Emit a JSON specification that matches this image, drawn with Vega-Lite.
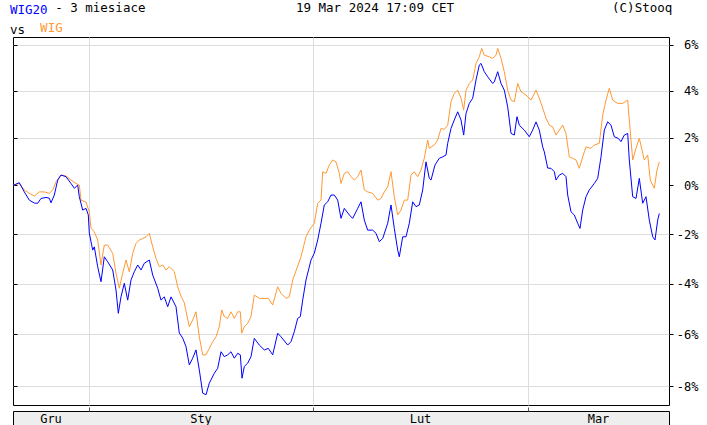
{
  "$schema": "https://vega.github.io/schema/vega-lite/v6.json",
  "background": "white",
  "padding": {"left": 9, "top": 1, "right": 0, "bottom": 0},
  "autosize": {"type": "pad"},
  "config": {
    "view": {"stroke": "black", "strokeWidth": 1},
    "font": "DejaVu Sans Mono",
    "concat": {"spacing": 0}
  },
  "title": {
    "text": "WIG20",
    "subtitle": "\u200b\u00a0\u00a0\u00a0\u00a0\u00a0\u00a0- 3 miesiace\u00a0\u00a0\u00a0\u00a0\u00a0\u00a0\u00a0\u00a0\u00a0\u00a0\u00a0\u00a0\u00a0\u00a0\u00a0\u00a0\u00a0\u00a0\u00a0\u00a019 Mar 2024 17:09 CET\u00a0\u00a0\u00a0\u00a0\u00a0\u00a0\u00a0\u00a0\u00a0\u00a0\u00a0\u00a0\u00a0\u00a0\u00a0\u00a0\u00a0\u00a0\u00a0\u00a0\u00a0(C)Stooq",
    "anchor": "start",
    "frame": "group",
    "dx": -3,
    "color": "#0000ff",
    "subtitleColor": "#000000",
    "font": "DejaVu Sans Mono",
    "subtitleFont": "DejaVu Sans Mono",
    "fontSize": 12.5,
    "subtitleFontSize": 12.5,
    "fontWeight": "normal",
    "subtitlePadding": -15,
    "offset": 2
  },
  "datasets": {
    "wig": [
      {"day":0,"level":100},{"day":0.63,"level":100.08},{"day":1.13,"level":99.81},{"day":1.63,"level":99.67},{"day":2.13,"level":99.56},{"day":2.63,"level":99.73},{"day":3.13,"level":99.73},{"day":3.63,"level":99.67},{"day":3.97,"level":99.81},{"day":4.3,"level":100.15},{"day":4.8,"level":100.43},{"day":5.3,"level":100.39},{"day":5.8,"level":100.22},{"day":6.3,"level":100.08},{"day":6.63,"level":100.01},{"day":6.8,"level":99.39},{"day":7.3,"level":99.31},{"day":7.63,"level":98.9},{"day":7.8,"level":98.24},{"day":8.13,"level":98.09},{"day":8.47,"level":97.76},{"day":8.8,"level":96.75},{"day":9.13,"level":97.55},{"day":9.47,"level":97.55},{"day":9.97,"level":97.22},{"day":10.3,"level":96.42},{"day":10.63,"level":95.82},{"day":10.97,"level":96.42},{"day":11.3,"level":96.95},{"day":11.63,"level":96.48},{"day":11.97,"level":97.22},{"day":12.3,"level":97.62},{"day":12.63,"level":97.76},{"day":12.97,"level":97.82},{"day":13.3,"level":97.89},{"day":13.63,"level":98.03},{"day":13.97,"level":97.48},{"day":14.3,"level":97.02},{"day":14.63,"level":96.68},{"day":14.97,"level":96.75},{"day":15.3,"level":96.55},{"day":15.63,"level":96.68},{"day":16.13,"level":96.48},{"day":16.47,"level":95.88},{"day":16.8,"level":95.51},{"day":17.13,"level":95.24},{"day":17.63,"level":94.3},{"day":17.97,"level":94.57},{"day":18.3,"level":94.89},{"day":18.63,"level":93.91},{"day":18.97,"level":93.21},{"day":19.3,"level":93.21},{"day":19.63,"level":93.46},{"day":19.97,"level":93.72},{"day":20.3,"level":93.91},{"day":20.63,"level":94.3},{"day":20.87,"level":94.96},{"day":21.13,"level":94.7},{"day":21.47,"level":94.63},{"day":21.8,"level":94.89},{"day":22.13,"level":94.63},{"day":22.47,"level":94.89},{"day":22.73,"level":94.89},{"day":22.87,"level":94.05},{"day":23.13,"level":94.3},{"day":23.47,"level":94.44},{"day":23.8,"level":94.7},{"day":24.13,"level":95.55},{"day":24.63,"level":95.42},{"day":25.13,"level":95.42},{"day":25.53,"level":95.42},{"day":25.97,"level":95.16},{"day":26.47,"level":95.88},{"day":26.8,"level":95.62},{"day":27.3,"level":95.42},{"day":27.63,"level":95.48},{"day":27.97,"level":96.15},{"day":28.4,"level":96.63},{"day":28.8,"level":97.08},{"day":29.3,"level":97.89},{"day":29.63,"level":98.16},{"day":30.13,"level":98.44},{"day":30.47,"level":99.26},{"day":30.8,"level":99.39},{"day":30.97,"level":100.57},{"day":31.3,"level":100.5},{"day":31.63,"level":100.85},{"day":31.97,"level":101.06},{"day":32.3,"level":100.98},{"day":32.63,"level":100.5},{"day":32.8,"level":100.08},{"day":33.13,"level":100.5},{"day":33.47,"level":100.57},{"day":33.8,"level":100.36},{"day":34.13,"level":100.22},{"day":34.47,"level":100.36},{"day":34.8,"level":100.64},{"day":35.13,"level":99.81},{"day":35.47,"level":99.73},{"day":35.97,"level":99.67},{"day":36.47,"level":99.39},{"day":36.8,"level":99.46},{"day":37.13,"level":99.73},{"day":37.47,"level":99.94},{"day":37.8,"level":100.57},{"day":38.13,"level":99.53},{"day":38.47,"level":98.78},{"day":38.8,"level":98.98},{"day":39.13,"level":99.39},{"day":39.47,"level":99.39},{"day":39.8,"level":100.43},{"day":40.13,"level":100.57},{"day":40.47,"level":100.36},{"day":40.8,"level":100.64},{"day":41.13,"level":101.13},{"day":41.47,"level":101.9},{"day":41.63,"level":101.55},{"day":42.13,"level":101.69},{"day":42.47,"level":101.9},{"day":42.8,"level":102.39},{"day":43.13,"level":102.35},{"day":43.47,"level":102.53},{"day":43.8,"level":103.53},{"day":44.13,"level":103.89},{"day":44.47,"level":104.03},{"day":44.8,"level":103.68},{"day":45.07,"level":103.17},{"day":45.3,"level":104.03},{"day":45.63,"level":104.32},{"day":45.97,"level":104.47},{"day":46.3,"level":105.19},{"day":46.63,"level":105.48},{"day":46.87,"level":105.85},{"day":47.13,"level":105.55},{"day":47.63,"level":105.48},{"day":47.97,"level":105.41},{"day":48.3,"level":105.55},{"day":48.47,"level":105.85},{"day":48.8,"level":105.41},{"day":49.13,"level":104.83},{"day":49.47,"level":104.03},{"day":49.8,"level":103.6},{"day":50.13,"level":103.53},{"day":50.47,"level":104.32},{"day":50.8,"level":103.96},{"day":51.3,"level":103.82},{"day":51.8,"level":103.6},{"day":52.3,"level":104.03},{"day":52.63,"level":103.68},{"day":52.97,"level":103.26},{"day":53.3,"level":102.83},{"day":53.63,"level":102.53},{"day":53.97,"level":102.46},{"day":54.3,"level":102.11},{"day":54.63,"level":102.32},{"day":54.97,"level":102.53},{"day":55.3,"level":102.18},{"day":55.63,"level":101.19},{"day":55.97,"level":101.13},{"day":56.3,"level":101.06},{"day":56.63,"level":100.71},{"day":56.97,"level":101.19},{"day":57.3,"level":101.61},{"day":57.8,"level":101.55},{"day":58.13,"level":101.69},{"day":58.63,"level":101.76},{"day":58.97,"level":102.96},{"day":59.3,"level":103.6},{"day":59.63,"level":104.11},{"day":59.97,"level":103.6},{"day":60.47,"level":103.46},{"day":60.97,"level":103.46},{"day":61.47,"level":103.6},{"day":61.63,"level":102.75},{"day":61.97,"level":101.06},{"day":62.3,"level":101.55},{"day":62.63,"level":101.97},{"day":63.13,"level":101.06},{"day":63.47,"level":101.27},{"day":63.73,"level":100.22},{"day":64.13,"level":99.88},{"day":64.4,"level":100.64},{"day":64.63,"level":100.98}
    ],
    "wig20": [
      {"day":0,"level":100},{"day":0.63,"level":100.11},{"day":1.13,"level":99.73},{"day":1.63,"level":99.39},{"day":2.13,"level":99.27},{"day":2.47,"level":99.26},{"day":2.8,"level":99.46},{"day":3.3,"level":99.5},{"day":3.63,"level":99.47},{"day":3.8,"level":99.28},{"day":4.13,"level":99.6},{"day":4.47,"level":100.22},{"day":4.8,"level":100.43},{"day":5.3,"level":100.36},{"day":5.8,"level":100.08},{"day":6.13,"level":99.88},{"day":6.47,"level":100.01},{"day":6.63,"level":99.53},{"day":6.97,"level":98.98},{"day":7.3,"level":99.05},{"day":7.53,"level":98.78},{"day":7.63,"level":98.04},{"day":7.97,"level":97.35},{"day":8.13,"level":97.48},{"day":8.47,"level":96.68},{"day":8.8,"level":96.08},{"day":9.13,"level":97.08},{"day":9.47,"level":96.88},{"day":9.97,"level":96.55},{"day":10.3,"level":95.75},{"day":10.53,"level":94.83},{"day":10.8,"level":95.48},{"day":11.13,"level":96.02},{"day":11.47,"level":95.35},{"day":11.8,"level":96.15},{"day":12.13,"level":96.48},{"day":12.47,"level":96.75},{"day":12.8,"level":96.55},{"day":13.13,"level":96.82},{"day":13.63,"level":96.95},{"day":13.97,"level":96.35},{"day":14.47,"level":95.82},{"day":14.8,"level":95.35},{"day":15.13,"level":95.48},{"day":15.47,"level":95.09},{"day":15.8,"level":95.48},{"day":16.3,"level":95.09},{"day":16.63,"level":94.06},{"day":16.97,"level":93.86},{"day":17.3,"level":93.53},{"day":17.63,"level":92.82},{"day":17.97,"level":93.08},{"day":18.3,"level":93.4},{"day":18.63,"level":92.63},{"day":18.97,"level":91.74},{"day":19.3,"level":91.68},{"day":19.63,"level":92.12},{"day":20.13,"level":92.5},{"day":20.47,"level":92.69},{"day":20.8,"level":93.33},{"day":21.13,"level":93.14},{"day":21.47,"level":93.21},{"day":21.8,"level":93.33},{"day":22.13,"level":93.08},{"day":22.47,"level":93.27},{"day":22.73,"level":93.21},{"day":22.9,"level":92.31},{"day":23.13,"level":92.76},{"day":23.47,"level":92.89},{"day":23.8,"level":93.14},{"day":24.13,"level":93.85},{"day":24.63,"level":93.59},{"day":25.13,"level":93.4},{"day":25.53,"level":93.46},{"day":25.97,"level":93.21},{"day":26.47,"level":94.05},{"day":26.8,"level":93.91},{"day":27.47,"level":93.59},{"day":27.8,"level":93.72},{"day":28.13,"level":94.11},{"day":28.47,"level":94.63},{"day":28.73,"level":94.7},{"day":28.97,"level":95.35},{"day":29.3,"level":96.15},{"day":29.8,"level":96.95},{"day":30.13,"level":97.22},{"day":30.47,"level":97.76},{"day":30.8,"level":98.44},{"day":31.13,"level":99.19},{"day":31.47,"level":99.32},{"day":31.8,"level":99.6},{"day":32.13,"level":99.6},{"day":32.47,"level":99.39},{"day":32.8,"level":98.64},{"day":33.13,"level":99.05},{"day":33.63,"level":98.78},{"day":33.97,"level":98.64},{"day":34.47,"level":99.05},{"day":34.8,"level":99.32},{"day":35.13,"level":98.57},{"day":35.47,"level":98.16},{"day":35.97,"level":98.16},{"day":36.3,"level":98.03},{"day":36.63,"level":97.69},{"day":36.97,"level":97.82},{"day":37.47,"level":98.44},{"day":37.8,"level":99.19},{"day":38.13,"level":98.23},{"day":38.47,"level":97.35},{"day":38.63,"level":97.08},{"day":38.97,"level":97.89},{"day":39.3,"level":97.89},{"day":39.63,"level":98.44},{"day":39.97,"level":99.32},{"day":40.3,"level":99.12},{"day":40.63,"level":99.19},{"day":40.97,"level":99.81},{"day":41.3,"level":100.98},{"day":41.63,"level":100.29},{"day":41.8,"level":100.22},{"day":42.2,"level":100.85},{"day":42.63,"level":101.13},{"day":42.97,"level":101.19},{"day":43.3,"level":101.27},{"day":43.47,"level":101.76},{"day":43.8,"level":102.39},{"day":44.13,"level":102.75},{"day":44.47,"level":103.1},{"day":44.8,"level":102.75},{"day":45.07,"level":102.11},{"day":45.3,"level":103.03},{"day":45.63,"level":103.46},{"day":45.97,"level":103.68},{"day":46.3,"level":104.47},{"day":46.63,"level":105.12},{"day":46.8,"level":105.19},{"day":47.13,"level":104.83},{"day":47.47,"level":104.61},{"day":47.97,"level":104.32},{"day":48.13,"level":104.39},{"day":48.47,"level":104.83},{"day":48.8,"level":104.32},{"day":49.13,"level":104.03},{"day":49.47,"level":103.31},{"day":49.8,"level":102.18},{"day":50.13,"level":102.11},{"day":50.4,"level":102.89},{"day":50.63,"level":102.53},{"day":51.13,"level":102.32},{"day":51.63,"level":102.04},{"day":51.97,"level":102.32},{"day":52.3,"level":102.67},{"day":52.63,"level":102.32},{"day":52.97,"level":101.61},{"day":53.13,"level":101.4},{"day":53.47,"level":100.72},{"day":53.8,"level":100.71},{"day":54.13,"level":100.57},{"day":54.3,"level":100.22},{"day":54.63,"level":100.43},{"day":54.97,"level":100.5},{"day":55.3,"level":100.36},{"day":55.47,"level":99.6},{"day":55.8,"level":98.91},{"day":56.13,"level":98.78},{"day":56.47,"level":98.44},{"day":56.7,"level":98.23},{"day":56.97,"level":98.98},{"day":57.3,"level":99.53},{"day":57.63,"level":99.81},{"day":58.13,"level":100.08},{"day":58.47,"level":100.29},{"day":58.8,"level":101.19},{"day":59.13,"level":102.32},{"day":59.47,"level":102.67},{"day":59.8,"level":102.53},{"day":60.13,"level":102.04},{"day":60.53,"level":101.97},{"day":60.8,"level":101.83},{"day":61.13,"level":102.11},{"day":61.47,"level":102.18},{"day":61.63,"level":101.06},{"day":61.97,"level":99.53},{"day":62.3,"level":99.46},{"day":62.63,"level":100.29},{"day":62.97,"level":99.26},{"day":63.3,"level":99.53},{"day":63.63,"level":98.57},{"day":63.97,"level":97.89},{"day":64.2,"level":97.76},{"day":64.47,"level":98.57},{"day":64.63,"level":98.84}
    ],
    "months": [
      {"month": "Gru", "mid": 3.8},
      {"month": "Sty", "mid": 18.8},
      {"month": "Lut", "mid": 40.75},
      {"month": "Mar", "mid": 58.55}
    ]
  },
  "vconcat": [
    {
      "width": 656,
      "height": 368,
      "title": {
        "text": "vs",
        "subtitle": "\u200b\u00a0\u00a0\u00a0\u00a0WIG",
        "anchor": "start",
        "frame": "group",
        "dx": -3,
        "color": "#000000",
        "subtitleColor": "#ff9933",
        "font": "DejaVu Sans Mono",
        "subtitleFont": "DejaVu Sans Mono",
        "fontSize": 12.5,
        "subtitleFontSize": 12.5,
        "fontWeight": "normal",
        "subtitlePadding": -15,
        "offset": -2
      },
      "resolve": {"axis": {"y": "independent"}},
      "layer": [
        {
          "mark": {"type": "rule", "color": "#a0a0a0", "strokeDash": [4, 4], "strokeWidth": 1},
          "encoding": {
            "y": {
              "datum": 100,
              "type": "quantitative",
              "scale": {"type": "log", "domain": [91.29, 106.35], "nice": false, "zero": false},
              "axis": {"orient": "left", "values": [92, 94, 96, 98, 100, 102, 104, 106], "labels": false, "domain": false, "grid": false, "ticks": true, "tickSize": -4, "tickColor": "#000000", "title": null}
            }
          }
        },
        {
          "data": {"name": "wig"},
          "mark": {"type": "line", "color": "#ff9933", "strokeWidth": 1},
          "encoding": {
            "x": {
              "field": "day",
              "type": "quantitative",
              "scale": {"domain": [0, 65.6], "nice": false, "zero": false},
              "axis": {"orient": "bottom", "values": [7.6, 30, 51.5], "labels": false, "ticks": false, "domain": false, "grid": true, "gridColor": "#dddddd", "title": null}
            },
            "y": {
              "field": "level",
              "type": "quantitative",
              "scale": {"type": "log", "domain": [91.29, 106.35], "nice": false, "zero": false},
              "axis": {
                "orient": "right",
                "values": [92, 94, 96, 98, 100, 102, 104, 106],
                "labelExpr": "(datum.value - 100) + '%'",
                "labelAlign": "right",
                "labelPadding": 25,
                "labelFont": "DejaVu Sans Mono",
                "labelFontSize": 12,
                "labelColor": "#000000",
                "labelOverlap": false,
                "labelFlush": false,
                "tickSize": 4,
                "tickColor": "#000000",
                "domain": false,
                "grid": true,
                "gridColor": "#dddddd",
                "gridOpacity": {"condition": {"test": "datum.value == 100", "value": 0}, "value": 1},
                "title": null
              }
            }
          }
        },
        {
          "data": {"name": "wig20"},
          "mark": {"type": "line", "color": "#0000ff", "strokeWidth": 1},
          "encoding": {
            "x": {"field": "day", "type": "quantitative", "scale": {"domain": [0, 65.6], "nice": false, "zero": false}},
            "y": {"field": "level", "type": "quantitative", "scale": {"type": "log", "domain": [91.29, 106.35], "nice": false, "zero": false}, "axis": null}
          }
        }
      ]
    },
    {
      "width": 656,
      "height": 16,
      "view": {"fill": "#eeeeee", "stroke": "black"},
      "data": {"name": "months"},
      "mark": {"type": "text", "font": "DejaVu Sans Mono", "fontSize": 12, "color": "#000000", "baseline": "middle", "align": "center"},
      "encoding": {
        "x": {
          "field": "mid",
          "type": "quantitative",
          "scale": {"domain": [0, 65.6], "nice": false, "zero": false},
          "axis": {"orient": "top", "values": [7.6, 30, 51.5], "labels": false, "domain": false, "grid": false, "ticks": true, "tickSize": 4, "tickColor": "#555555", "title": null}
        },
        "text": {"field": "month"}
      }
    }
  ]
}
